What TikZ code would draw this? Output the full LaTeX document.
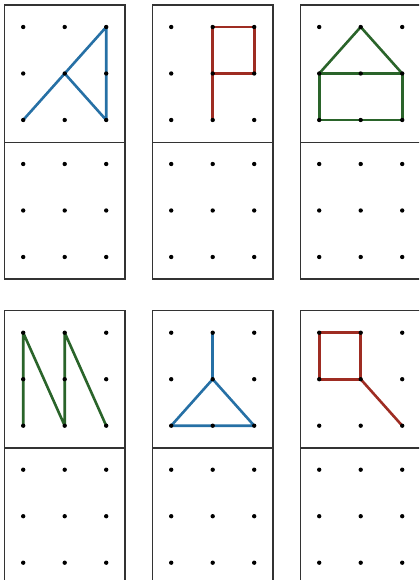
\documentclass[tikz,border=0pt]{standalone}
\usetikzlibrary{backgrounds}

\definecolor{lineblue}{RGB}{38,112,165}
\definecolor{linered}{RGB}{158,44,34}
\definecolor{linegreen}{RGB}{42,100,42}

\tikzset{
  panel/.style={draw=black!80, line width=2.1pt},
  dot/.style={circle, fill=black, inner sep=0pt, minimum size=6.2pt},
  figline/.style={line width=3.7pt, line join=round, line cap=round}
}

\begin{document}
\begin{tikzpicture}[x=0.05cm, y=-0.05cm]

  % Khung trang
  \useasboundingbox (0,0) rectangle (419,580);
  \clip (0,0) rectangle (419,580);

  % 6 ô: góc trên trái của mỗi ô
  \foreach \px/\py [count=\k] in {4.7/5, 152.7/5, 300.7/5, 4.7/310.7, 152.7/310.7, 300.7/310.7} {
    \draw[panel] (\px,\py) rectangle ++(120.3,274);
    \draw[panel] (\px,\py+137.5) -- ++(120.3,0);
    % lưới 3x3 phía trên (có hình mẫu) và phía dưới (để vẽ lại)
    \foreach \i/\dx in {0/18.5, 1/60, 2/101.5} {
      \foreach \j/\dy in {0/115, 1/68.5, 2/22} {
        \node[dot] (t\k-\i-\j) at (\px+\dx,\py+\dy) {};
        \node[dot] (b\k-\i-\j) at (\px+\dx,\py+\dy+137) {};
      }
    }
  }

  \begin{pgfonlayer}{background}
    % Hình 1: tam giác lệch
    \draw[figline, lineblue] (t1-0-0.center) -- (t1-1-1.center) -- (t1-2-2.center)
      -- (t1-2-0.center) -- (t1-1-1.center);

    % Hình 2: chữ P
    \draw[figline, linered] (t2-1-0.center) -- (t2-1-2.center) -- (t2-2-2.center)
      -- (t2-2-1.center) -- (t2-1-1.center);

    % Hình 3: ngôi nhà
    \draw[figline, linegreen] (t3-0-0.center) -- (t3-2-0.center) -- (t3-2-1.center)
      -- (t3-0-1.center) -- cycle;
    \draw[figline, linegreen] (t3-0-1.center) -- (t3-1-2.center) -- (t3-2-1.center);

    % Hình 4: chữ N kép
    \draw[figline, linegreen] (t4-0-0.center) -- (t4-0-2.center) -- (t4-1-0.center)
      -- (t4-1-2.center) -- (t4-2-0.center);

    % Hình 5: tam giác có cán
    \draw[figline, lineblue] (t5-1-2.center) -- (t5-1-1.center);
    \draw[figline, lineblue] (t5-0-0.center) -- (t5-2-0.center) -- (t5-1-1.center) -- cycle;

    % Hình 6: hình vuông có đuôi
    \draw[figline, linered] (t6-0-1.center) -- (t6-0-2.center) -- (t6-1-2.center)
      -- (t6-1-1.center) -- cycle;
    \draw[figline, linered] (t6-1-1.center) -- (t6-2-0.center);
  \end{pgfonlayer}

\end{tikzpicture}
\end{document}
